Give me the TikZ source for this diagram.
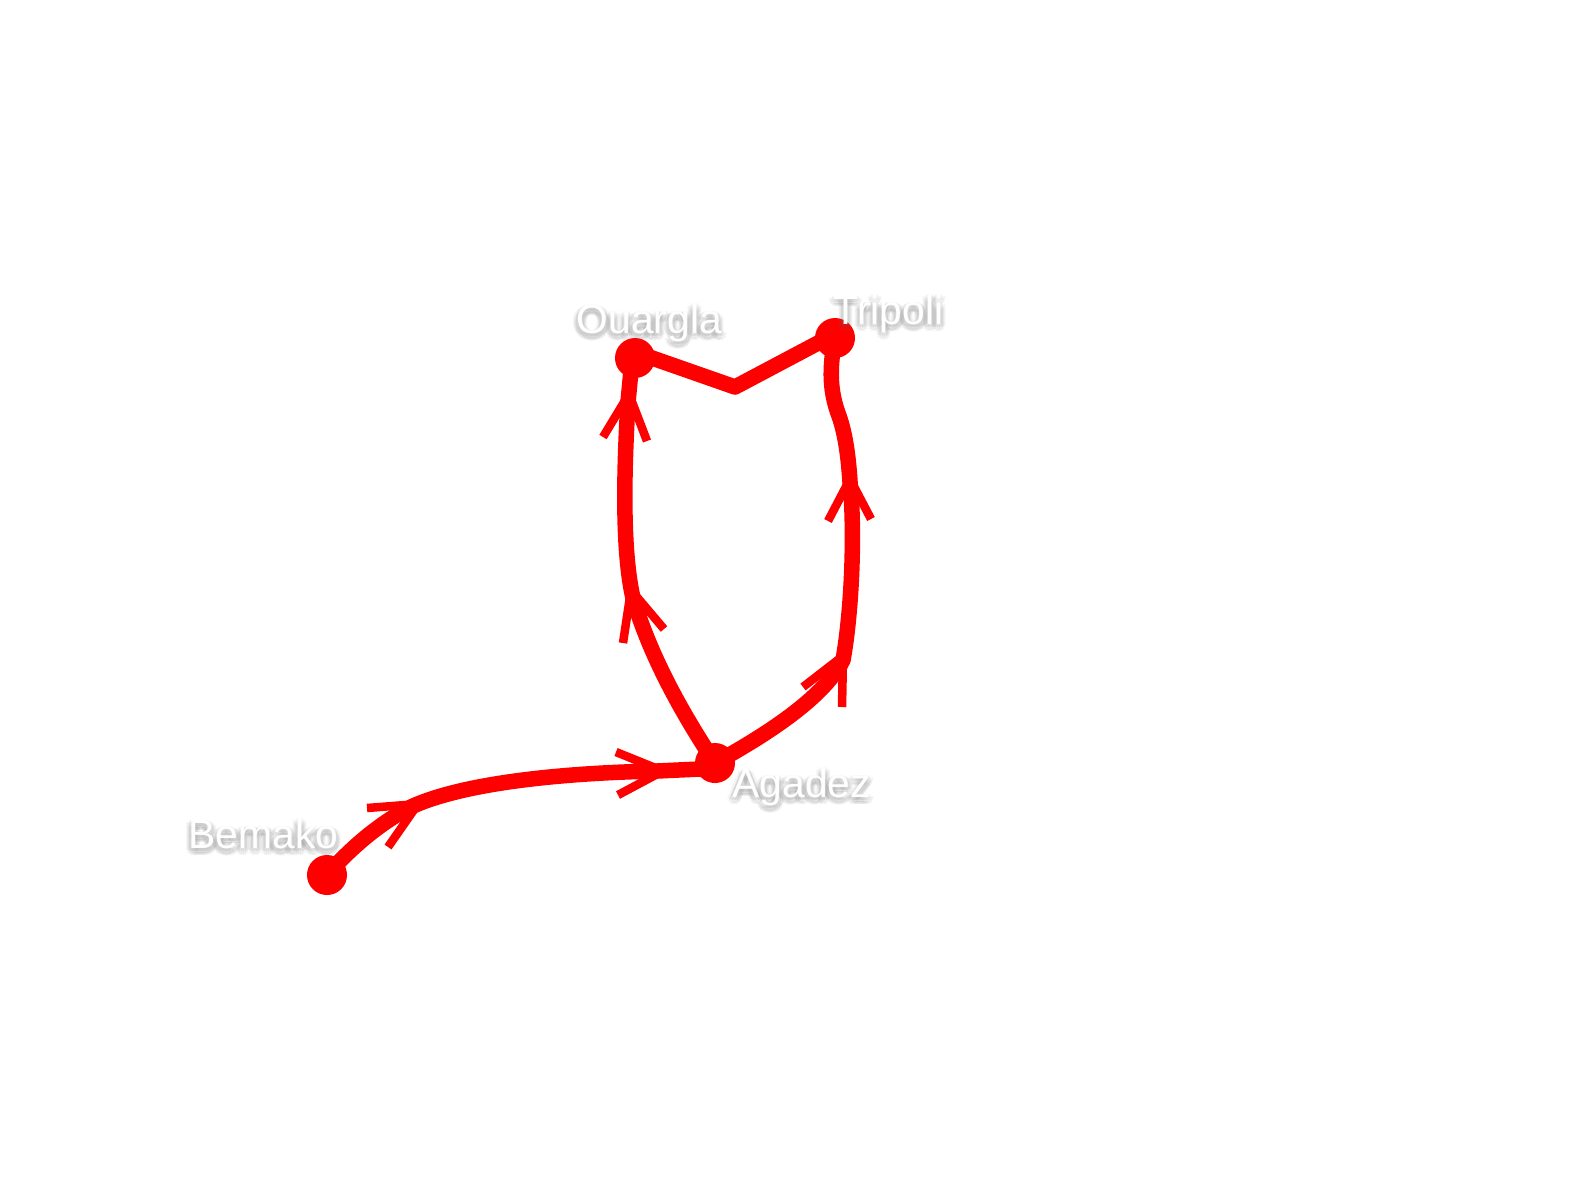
\documentclass[tikz,border=0pt]{standalone}
\usepackage{fontspec}
\setmainfont{Liberation Sans}
\usepackage{xcolor}
\usetikzlibrary{calc}
\definecolor{route}{HTML}{FF0000}
\definecolor{halo}{HTML}{666666}
\tikzset{
  leg/.style={draw=route, line width=1.55mm, line cap=round, line join=round},
  barb/.style={draw=route, line width=0.85mm, line cap=butt, line join=miter},
  town/.style={circle, fill=route, minimum size=4mm, inner sep=0pt},
  lab/.style={text=white, font=\fontsize{11.6}{14}\selectfont, anchor=base west, inner sep=0pt},
  labs/.style={lab, text=halo, text opacity=0.075},
}

\begin{document}
\begin{tikzpicture}[x=0.01cm,y=-0.01cm]
  \useasboundingbox (0,0) rectangle (1594,1181);
  % towns
  \node[town] (bemako) at (327,875) {};
  \node[town] (agadez) at (715,763) {};
  \node[town] (ouargla) at (635,358) {};
  \node[town] (tripoli) at (835,338) {};
  % arrow tips and their barbs
  \coordinate (ta) at (418,804);
  \coordinate (tal) at (367,808);
  \coordinate (tar) at (388,847);
  \coordinate (tb) at (663,771);
  \coordinate (tbl) at (616,752);
  \coordinate (tbr) at (618,795);
  \coordinate (tc) at (631,590);
  \coordinate (tcl) at (623,643);
  \coordinate (tcr) at (664,629);
  \coordinate (td) at (629,394);
  \coordinate (tdl) at (603,437);
  \coordinate (tdr) at (647,441);
  \coordinate (te) at (843,656);
  \coordinate (tel) at (803,687);
  \coordinate (ter) at (842,707);
  \coordinate (tf) at (850,479);
  \coordinate (tfl) at (828,521);
  \coordinate (tfr) at (871,519);
  % points the legs pass through
  \coordinate (wa) at (413,806);
  \coordinate (wb) at (657,771);
  \coordinate (wc) at (633,598);
  \coordinate (wd) at (628,402);
  \coordinate (we) at (843,660);
  \coordinate (wf) at (850,482);
  % ends of the legs under the dots
  \coordinate (bend) at (735,387);
  \coordinate (agin) at (700,769);
  \coordinate (ouin) at (632,360);
  \coordinate (ouout) at (635,352);
  \coordinate (trin) at (835,334);
  % routes
  \draw[leg] (bemako.center) .. controls (355,843) and (385,820) .. (wa)
    .. controls (465,783) and (560,773) .. (wb) -- (agin);
  \draw[leg] (agadez.center) .. controls (680,710) and (650,655) .. (wc)
    .. controls (622,550) and (624,470) .. (wd) -- (ouin);
  \draw[leg] (agadez.center) .. controls (775,730) and (825,695) .. (we)
    .. controls (852,610) and (855,530) .. (wf)
    .. controls (848,450) and (844,430) .. (839,416)
    .. controls (830,392) and (829,370) .. (tripoli.center);
  \draw[leg] (ouout) -- (bend) -- (trin);
  \foreach \T in {ta,tb,tc,td,te,tf}
    \draw[barb] (\T l) -- (\T) -- (\T r);
  % labels
  \foreach \X/\N/\px/\py in {Bemako/bemako/188/848,Ouargla/ouargla/576/333,Tripoli/tripoli/833/324,Agadez/agadez/732/797}{
    \foreach \dx/\dy in {0/3,-3/3,3/3,0/6,-4/5,4/5,-2/7,2/7,-5/2,5/2,-2/0,2/0}
      \node[labs] (\N s\dx\dy) at (\px+\dx,\py+\dy) {\X};
    \node[lab] (\N lab) at (\px,\py) {\X};
  }
\end{tikzpicture}
\end{document}
